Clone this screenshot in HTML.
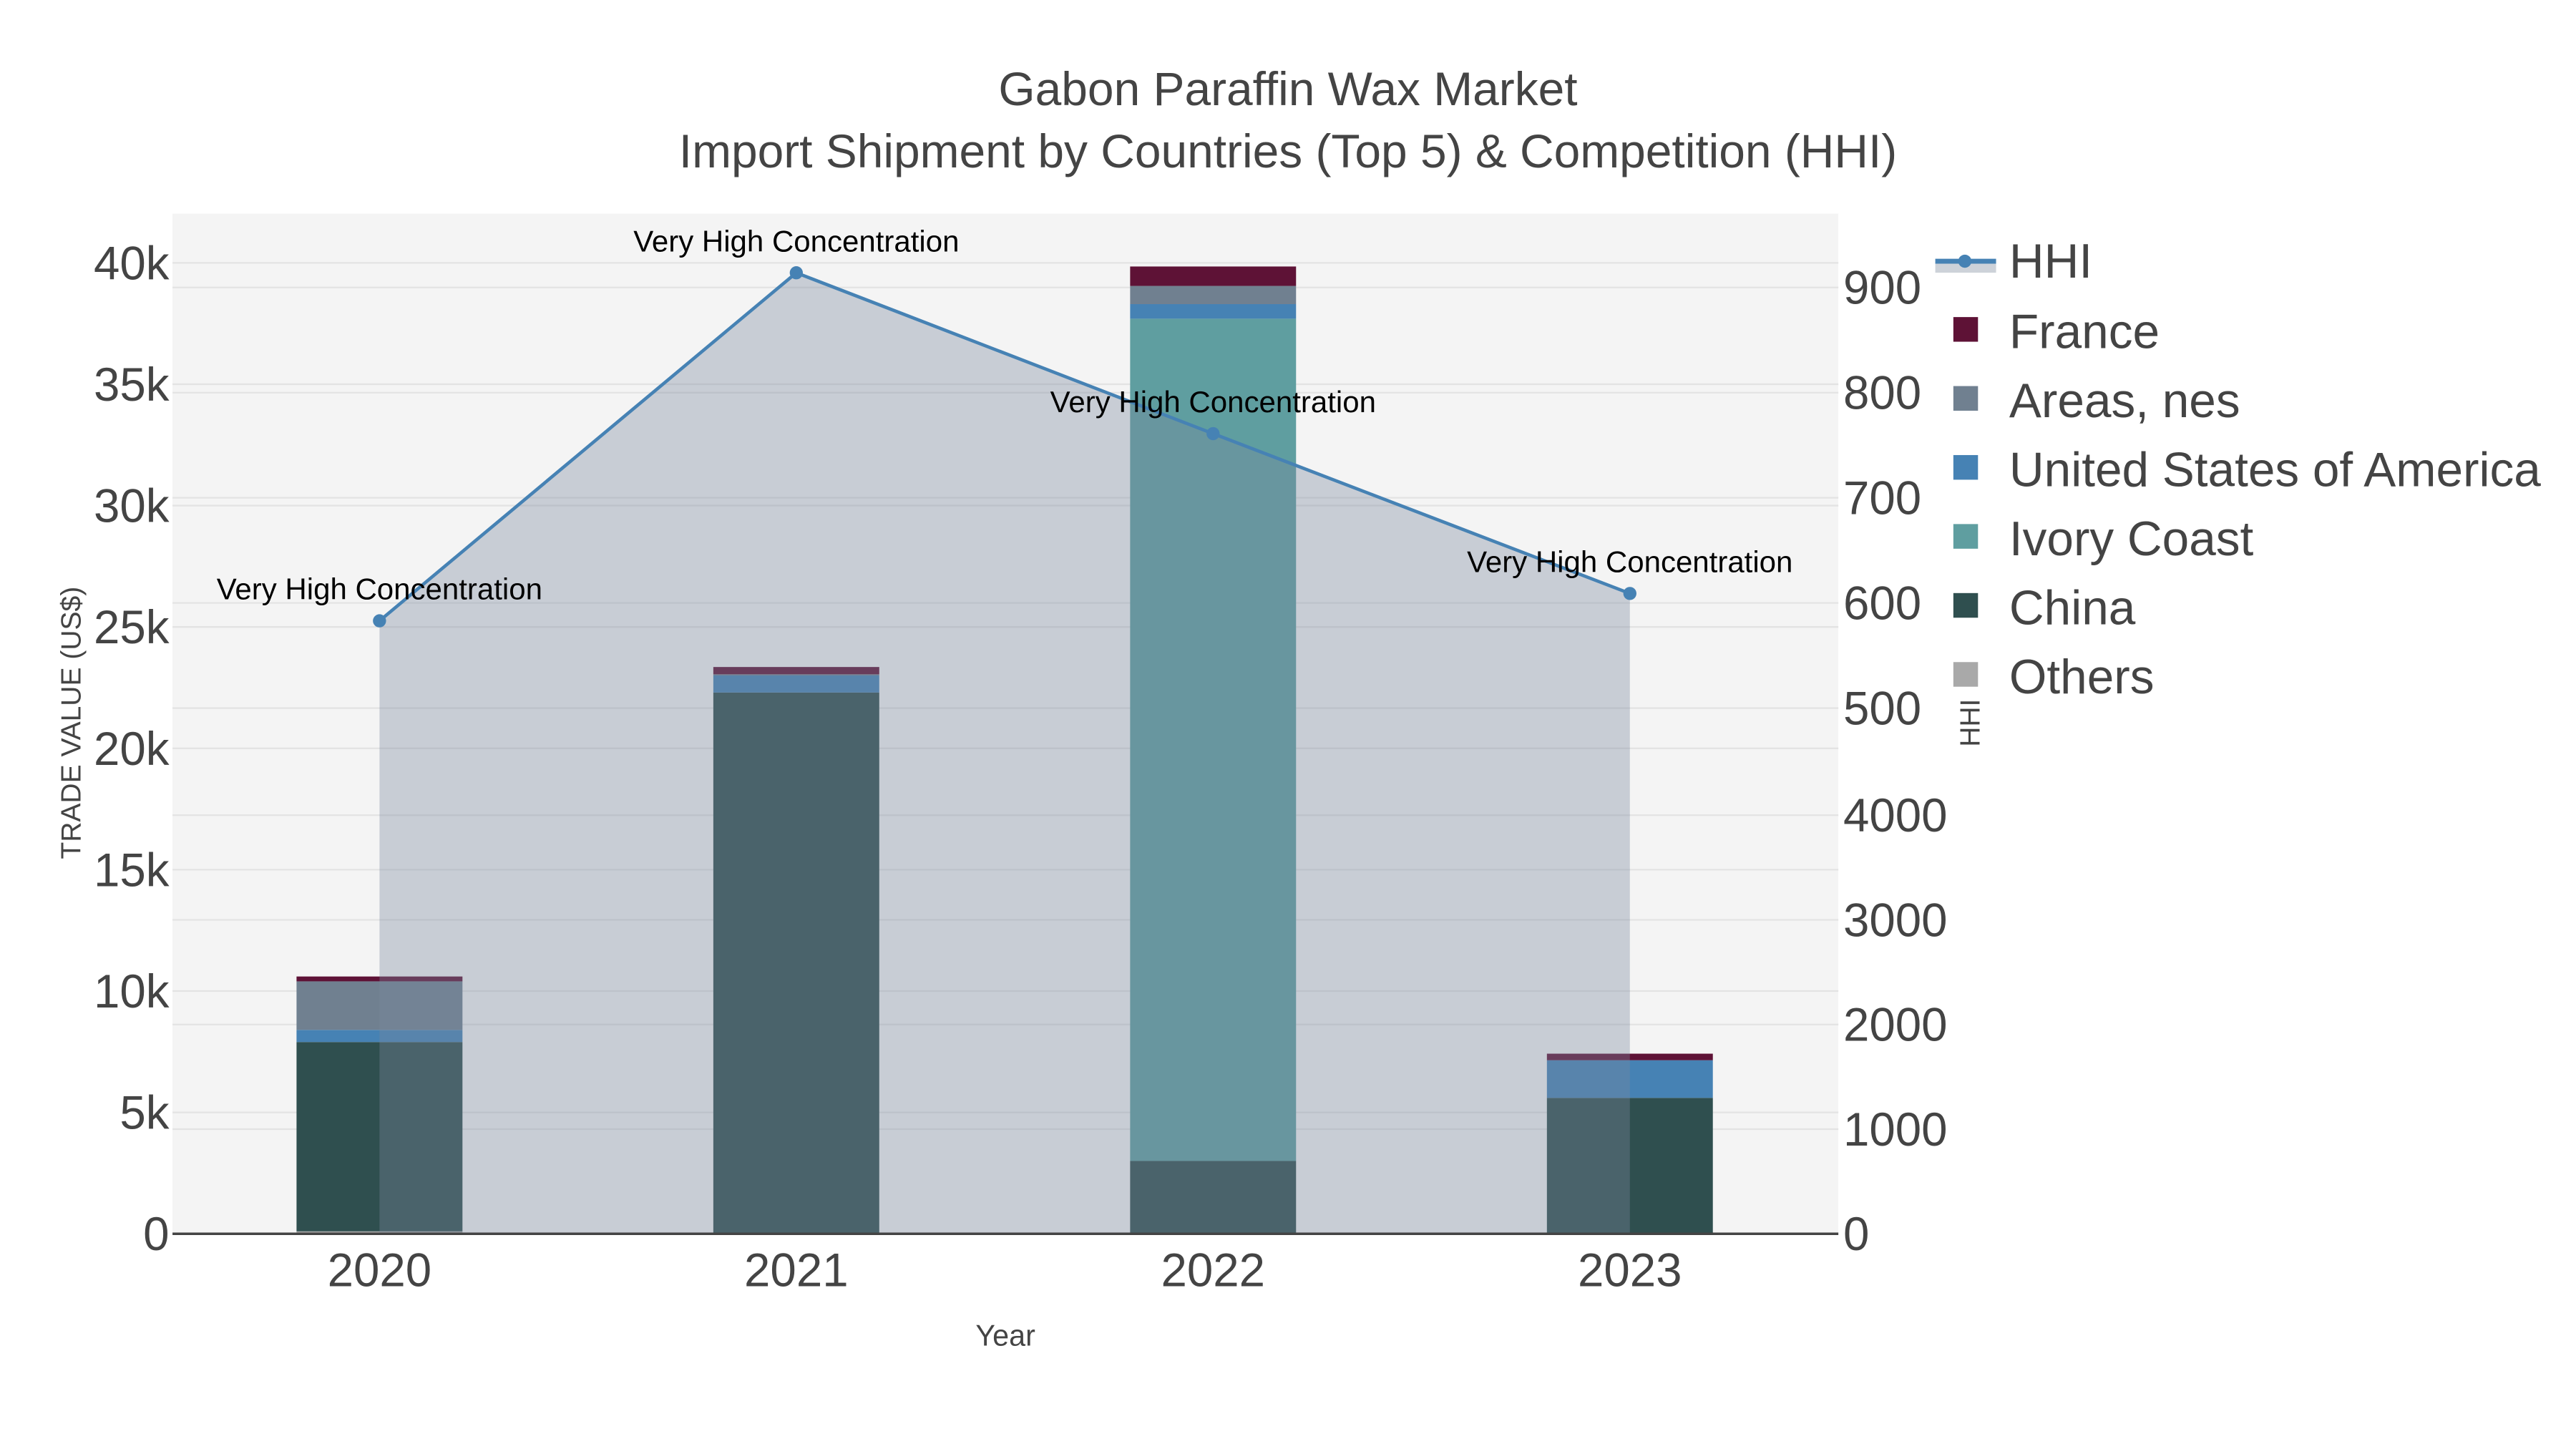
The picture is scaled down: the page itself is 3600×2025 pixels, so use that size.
<!DOCTYPE html>
<html><head><meta charset="utf-8"><style>html,body{margin:0;padding:0;background:#fff}svg{display:block}text{font-family:"Liberation Sans",sans-serif}</style></head>
<body>
<svg id="chart" width="3600" height="2025" viewBox="0 0 1568 882" xmlns="http://www.w3.org/2000/svg">
<rect width="1568" height="882" fill="#fff"/>
<text x="784" y="64" text-anchor="middle" font-size="28.7" fill="#444">Gabon Paraffin Wax Market</text>
<text x="784" y="102" text-anchor="middle" font-size="28.7" fill="#444">Import Shipment by Countries (Top 5) &amp; Competition (HHI)</text>
<rect x="105" y="130" width="1014" height="621" fill="#f4f4f4"/>
<g id="grid"></g><g id="bars"></g><g id="area"></g><g id="line"></g><g id="axes"></g><g id="legend"></g>
<text transform="translate(49,440) rotate(-90)" text-anchor="middle" font-size="17" fill="#444">TRADE VALUE (US$)</text>
<text transform="translate(1205,440) rotate(-90)" text-anchor="middle" font-size="17" fill="#444">HHI</text>
<text x="612" y="819" text-anchor="middle" font-size="18" fill="#444">Year</text>
</svg>
<script>
const years=['2020','2021','2022','2023'];
const seriesNames=['Others','China','Ivory Coast','United States of America','Areas, nes','France'];
const others=[100,0,0,0];
const china=[7800,22300,3000,5600];
const ivory=[0,0,34700,0];
const usa=[500,700,600,1550];
const areas=[2000,50,750,0];
const france=[200,300,800,270];
const hhi=[583,914,761,609];
const hhiLabels=['Very High Concentration','Very High Concentration','Very High Concentration','Very High Concentration'];
const yTicks=[0,5000,10000,15000,20000,25000,30000,35000,40000];
const yTickLabels=['0','5k','10k','15k','20k','25k','30k','35k','40k'];
const y2Ticks=[500,600,700,800,900];
const y3Ticks=[0,1000,2000,3000,4000];
const colors=['#a9a9a9','#2f4f4f','#5f9ea0','#4682b4','#708090','#5e1236'];
const NS='http://www.w3.org/2000/svg';
function el(t,a,p){const e=document.createElementNS(NS,t);for(const k in a)e.setAttribute(k,a[k]);p.appendChild(e);return e;}
const X=i=>231+i*253.7;
const Y=v=>751-v*0.014775;
const Y2=v=>751-v*0.64;
const Y3=v=>751-v*0.0637;
const grid=document.getElementById('grid'),axes=document.getElementById('axes');
yTicks.forEach((v,i)=>{
 if(v>0){const g=el('line',{x1:105,x2:1119,y1:Y(v),y2:Y(v),stroke:'#e3e3e3','stroke-width':1},grid);
 
 }
 const t=el('text',{x:103,y:Y(v)+10,'text-anchor':'end','font-size':28.5,fill:'#444'},axes);t.textContent=yTickLabels[i];
 
 
});
y2Ticks.forEach(v=>{
 const g=el('line',{x1:105,x2:1119,y1:Y2(v),y2:Y2(v),stroke:'#e3e3e3','stroke-width':1},grid);
 
 
 const t=el('text',{x:1122,y:Y2(v)+10,'font-size':28.5,fill:'#444'},axes);t.textContent=v;
 
 
});
y3Ticks.forEach(v=>{
 if(v>0){const g=el('line',{x1:105,x2:1119,y1:Y3(v),y2:Y3(v),stroke:'#e3e3e3','stroke-width':1},grid);
 
 }
 const t=el('text',{x:1122,y:Y3(v)+10,'font-size':28.5,fill:'#444'},axes);t.textContent=v;
 
 
});
const bars=document.getElementById('bars');
const stacks=[others,china,ivory,usa,areas,france];
years.forEach((y,i)=>{
 let base=0;
 stacks.forEach((s,k)=>{
  const v=s[i];if(v<=0)return;
  const r=el('rect',{x:X(i)-50.5,y:Y(base+v),width:101,height:Y(base)-Y(base+v),fill:colors[k]},bars);
  
  
  base+=v;
 });
 const t=el('text',{x:X(i),y:783,'text-anchor':'middle','font-size':28.5,fill:'#444'},axes);t.textContent=y;
 
 
});
const area=document.getElementById('area');
let d='M'+X(0)+','+751;hhi.forEach((v,i)=>d+=' L'+X(i)+','+Y2(v));d+=' L'+X(hhi.length-1)+',751 Z';
const ap=el('path',{d:d,fill:'rgb(122,136,158)','fill-opacity':0.36},area);


const line=document.getElementById('line');
const pl=el('polyline',{points:hhi.map((v,i)=>X(i)+','+Y2(v)).join(' '),fill:'none',stroke:'#4682b4','stroke-width':2},line);


hhi.forEach((v,i)=>{
 const c=el('circle',{cx:X(i),cy:Y2(v),r:4,fill:'#4682b4'},line);
 
 
 const t=el('text',{x:X(i),y:Y2(v)-13,'text-anchor':'middle','font-size':18.3,fill:'#000'},line);t.textContent=hhiLabels[i];
 
 
});
const ax=el('line',{x1:105,x2:1119,y1:751,y2:751,stroke:'#444','stroke-width':1.5},axes);


const lg=document.getElementById('legend');
const hl=el('rect',{x:1178,y:160,width:37,height:6,fill:'#cdd2d9'},lg);


const hl2=el('line',{x1:1178,x2:1215,y1:159,y2:159,stroke:'#4682b4','stroke-width':3},lg);


const hc=el('circle',{cx:1196,cy:159,r:4,fill:'#4682b4'},lg);


const ht=el('text',{x:1223,y:169,'font-size':29.4,fill:'#444'},lg);ht.textContent='HHI';


const order=[5,4,3,2,1,0];
order.forEach((k,j)=>{
 const yy=202+j*42;
 const s=el('rect',{x:1189,y:yy-9,width:15,height:15,fill:colors[k]},lg);
 
 
 const t=el('text',{x:1223,y:yy+10,'font-size':29.4,fill:'#444'},lg);t.textContent=seriesNames[k];
 
 
});
</script>
</body></html>
